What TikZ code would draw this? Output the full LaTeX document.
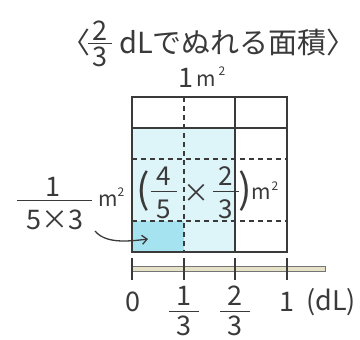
\documentclass[tikz,border=0pt]{standalone}
\usepackage{fontspec}
\setmainfont{Noto Sans CJK JP}
\usetikzlibrary{arrows.meta}
\definecolor{lightc}{HTML}{DDF5F9}
\definecolor{darkc}{HTML}{A6E3F0}
\definecolor{ink}{HTML}{3A3A3A}
\definecolor{beige}{HTML}{E6E2C8}
\tikzset{
  txt/.style={inner sep=0pt, text=ink, font=\fontsize{27}{29}\selectfont},
  frc/.style={inner sep=0pt, text=ink, font=\fontsize{26}{28}\selectfont},
  big/.style={inner sep=0pt, text=ink, font=\fontsize{29}{31}\selectfont},
  unit/.style={inner sep=0pt, text=ink, font=\fontsize{21}{23}\selectfont},
  sm/.style={inner sep=0pt, text=ink, font=\fontsize{12}{14}\selectfont},
  paren/.style={inner sep=0pt, text=ink, font=\fontsize{40}{42}\selectfont},
  grid/.style={draw=ink, line width=1.1pt},
  dgrid/.style={draw=ink, line width=1.1pt, dash pattern=on 5pt off 4pt},
  bar/.style={draw=ink, line width=1pt},
  tick/.style={draw=ink, line width=1.1pt}
}
\begin{document}
\begin{tikzpicture}[x=1pt,y=-1pt]
\useasboundingbox (0,0) rectangle (360,340);
% fills
\fill[lightc] (132,128) rectangle (235,252);
\fill[darkc] (132,221) rectangle (184,252);
% grid
\draw[dgrid] (184,97) -- (184,252);
\draw[dgrid] (132,159) -- (287,159);
\draw[dgrid] (132,221) -- (287,221);
\draw[grid] (235,97) -- (235,252);
\draw[grid] (132,128) -- (287,128);
\draw[grid] (132,97) rectangle (287,252);
% title
\node[big] (lt) at (76,42) {〈};
\node[txt] (tn) at (100,31) {2};
\draw[bar] (88,44) -- (112,44);
\node[txt] (td) at (100,57) {3};
\node[big, anchor=west] (tt) at (119,42) {dLでぬれる面積〉};
% 1 m2
\node[txt] (one) at (186,78) {1};
\node[unit, anchor=west] (m1) at (196,81) {m};
\node[sm] (m1s) at (222,71) {2};
% left label
\node[txt] (ln) at (53,187) {1};
\draw[bar] (17,201) -- (92,201);
\node[txt] (ld) at (55,220) {5×3};
\node[unit] (lm) at (108,201) {m};
\node[sm] (lms) at (121,192) {2};
% middle label
\node[paren] (lp) at (143,191) {(};
\node[frc] (n1) at (164,176) {4};
\draw[bar] (151,192) -- (177,192);
\node[frc] (d1) at (164,209) {5};
\node[frc] (x) at (196,193) {×};
\node[frc] (n2) at (226,176) {2};
\draw[bar] (213,192) -- (239,192);
\node[frc] (d2) at (226,209) {3};
\node[paren] (rp) at (245,191) {)};
\node[unit] (mm) at (261,194) {m};
\node[sm] (mms) at (275,186) {2};
% arrow
\coordinate (as) at (95,231);
\coordinate (ae) at (148,239);
\draw[ink, line width=1.3pt, -{Straight Barb[length=5pt,width=9pt]}] (as) .. controls (105,243) and (125,242) .. (ae);
% number line
\draw[ink!70, fill=beige, line width=0.8pt] (132,266) rectangle (325,271);
\foreach \xx in {132,184,235,287} \draw[tick] (\xx,258) -- (\xx,280);
\node[txt] (z) at (133,302) {0};
\node[txt] (a1) at (184,296) {1};
\draw[bar] (169,312) -- (199,312);
\node[txt] (a2) at (184,326) {3};
\node[txt] (b1) at (235,296) {2};
\draw[bar] (220,312) -- (250,312);
\node[txt] (b2) at (235,326) {3};
\node[txt] (c1) at (287,302) {1};
\node[txt, anchor=west] (dl) at (306,302) {(dL)};
\end{tikzpicture}
\end{document}
